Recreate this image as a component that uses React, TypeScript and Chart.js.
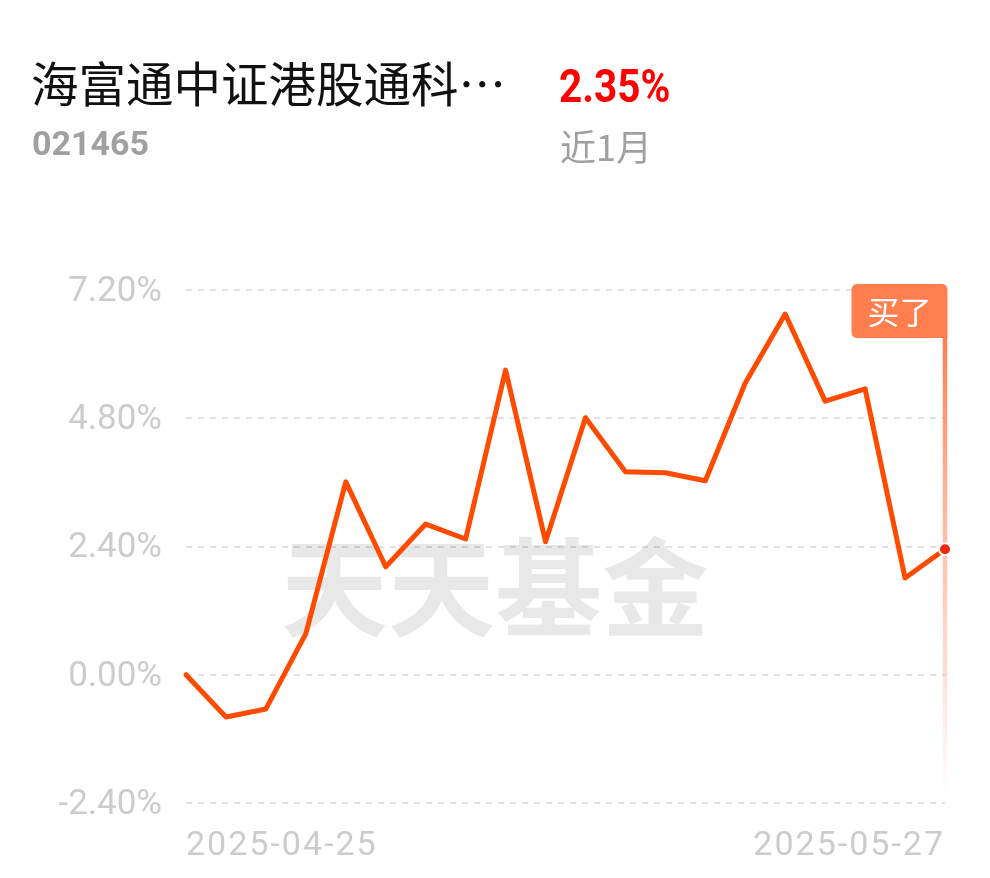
import React, { useEffect, useRef } from "react";
import { Chart, registerables } from "chart.js";

Chart.register(...registerables);

const fundName = "海富通中证港股通科…";
const fundCode = "021465";
const periodReturn = "2.35%";
const periodLabel = "近1月";
const watermarkText = "天天基金";
const buyTagText = "买了";

const dates = [
  "2025-04-25", "2025-04-28", "2025-04-29", "2025-04-30", "2025-05-06",
  "2025-05-07", "2025-05-08", "2025-05-09", "2025-05-12", "2025-05-13",
  "2025-05-14", "2025-05-15", "2025-05-16", "2025-05-19", "2025-05-20",
  "2025-05-21", "2025-05-22", "2025-05-23", "2025-05-26", "2025-05-27",
];

const returns = [
  0.0, -0.79, -0.64, 0.77, 3.61,
  2.02, 2.82, 2.54, 5.70, 2.49,
  4.81, 3.80, 3.78, 3.63, 5.46,
  6.75, 5.12, 5.35, 1.81, 2.35,
];

const yTicks = [-2.4, 0, 2.4, 4.8, 7.2];

const LINE_COLOR = "#FF4B00";
const TAG_COLOR = "#FF7E4F";

const watermarkPlugin = {
  id: "watermarkAndTag",
  beforeDatasetsDraw(chart: any) {
    const { ctx, chartArea } = chart;
    ctx.save();
    // watermark
    ctx.font = "bold 107px 'Noto Sans CJK SC'";
    ctx.fillStyle = "rgba(0,0,0,0.09)";
    ctx.textAlign = "center";
    ctx.textBaseline = "middle";
    ctx.fillText(watermarkText, chartArea.left + 309, chartArea.top + 297);

    // buy marker at last point
    const meta = chart.getDatasetMeta(0);
    const last = meta.data[meta.data.length - 1];
    const x = last.x;
    const tagW = 96;
    const tagH = 54;
    const tagTop = chartArea.top - 6;
    const tagBottom = tagTop + tagH;
    const lineBottom = chartArea.bottom - 8;
    const grad = ctx.createLinearGradient(0, tagBottom, 0, lineBottom);
    grad.addColorStop(0, "rgba(255,126,79,1)");
    grad.addColorStop(0.45, "rgba(255,150,115,0.6)");
    grad.addColorStop(1, "rgba(255,150,115,0)");
    ctx.strokeStyle = grad;
    ctx.lineWidth = 4.5;
    ctx.beginPath();
    ctx.moveTo(x, tagBottom);
    ctx.lineTo(x, lineBottom);
    ctx.stroke();

    const right = x + 2.5;
    const left = right - tagW;
    const r = 6;
    ctx.fillStyle = TAG_COLOR;
    ctx.beginPath();
    ctx.moveTo(left + r, tagTop);
    ctx.lineTo(right - r, tagTop);
    ctx.quadraticCurveTo(right, tagTop, right, tagTop + r);
    ctx.lineTo(right, tagBottom);
    ctx.lineTo(left + r, tagBottom);
    ctx.quadraticCurveTo(left, tagBottom, left, tagBottom - r);
    ctx.lineTo(left, tagTop + r);
    ctx.quadraticCurveTo(left, tagTop, left + r, tagTop);
    ctx.closePath();
    ctx.fill();

    ctx.fillStyle = "#ffffff";
    ctx.font = "32px 'Noto Sans CJK SC'";
    ctx.textAlign = "center";
    ctx.textBaseline = "middle";
    ctx.fillText(buyTagText, (left + right) / 2, tagTop + tagH / 2 + 1);
    ctx.restore();
  },
  afterDatasetsDraw(chart: any) {
    (chart.ctx as any).letterSpacing = "2px";
  },
  afterDraw(chart: any) {
    (chart.ctx as any).letterSpacing = "0px";
  },
};

export default function App() {
  const canvasRef = useRef<HTMLCanvasElement | null>(null);

  useEffect(() => {
    const canvas = canvasRef.current;
    if (!canvas) return;
    const chart = new Chart(canvas, {
      type: "line",
      data: {
        labels: dates,
        datasets: [
          {
            data: returns,
            borderColor: LINE_COLOR,
            borderWidth: 5,
            borderJoinStyle: "round",
            borderCapStyle: "round",
            tension: 0,
            fill: false,
            clip: false as any,
            pointRadius: returns.map((_, i) => (i === returns.length - 1 ? 6 : 0)),
            pointHoverRadius: 0,
            pointBackgroundColor: "#EE2A12",
            pointBorderColor: "#ffffff",
            pointBorderWidth: 2,
          },
        ],
      },
      options: {
        animation: false,
        responsive: false,
        devicePixelRatio: 1,
        events: [],
        layout: { padding: { top: 290, right: 45, left: 0, bottom: 0 } },
        plugins: {
          legend: { display: false },
          tooltip: { enabled: false },
          title: { display: false },
        },
        scales: {
          x: {
            type: "category",
            offset: false,
            grid: { display: false, drawTicks: false },
            border: { display: false },
            afterFit: (scale: any) => {
              scale.height = 75;
            },
            ticks: {
              z: 1,
              autoSkip: false,
              maxRotation: 0,
              minRotation: 0,
              align: "inner",
              padding: 23,
              color: "#cccccc",
              font: { family: "Roboto", size: 34 },
              callback: (_v: any, i: number) =>
                i === 0 || i === dates.length - 1 ? dates[i] : "",
            },
          },
          y: {
            min: -2.4,
            max: 7.2,
            afterBuildTicks: (scale: any) => {
              scale.ticks = yTicks.map((v) => ({ value: v }));
            },
            afterFit: (scale: any) => {
              scale.width = 186;
            },
            grid: {
              color: "#e3e3e3",
              lineWidth: 2,
              drawTicks: false,
            },
            border: { display: false, dash: [6, 6] },
            ticks: {
              padding: 24,
              labelOffset: 2,
              color: "#cccccc",
              font: { family: "Roboto", size: 35 },
              callback: (v: any) => Number(v).toFixed(2) + "%",
            },
          },
        },
      },
      plugins: [watermarkPlugin],
    } as any);
    return () => chart.destroy();
  }, []);

  const base: React.CSSProperties = {
    position: "absolute",
    whiteSpace: "nowrap",
    lineHeight: 1,
    margin: 0,
  };

  return (
    <div
      style={{
        position: "absolute",
        left: 0,
        top: 0,
        width: 990,
        height: 878,
        background: "#ffffff",
        overflow: "hidden",
      }}
    >
      <canvas
        ref={canvasRef}
        width={990}
        height={878}
        style={{ position: "absolute", left: 0, top: 0, width: 990, height: 878 }}
      />
      <div
        style={{
          ...base,
          left: 31,
          top: 58,
          fontSize: 47.5,
          fontFamily: "'Noto Sans CJK SC'",
          color: "#111111",
        }}
      >
        {fundName}
      </div>
      <div
        style={{
          ...base,
          left: 32,
          top: 126,
          fontSize: 34,
          fontWeight: 700,
          fontFamily: "Roboto",
          color: "#a0a0a0",
        }}
      >
        {fundCode}
      </div>
      <div
        style={{
          ...base,
          left: 559,
          top: 63,
          fontSize: 46,
          fontWeight: 700,
          fontFamily: "Roboto",
          color: "#ff0000",
          transform: "scaleX(0.88)",
          transformOrigin: "left top",
        }}
      >
        {periodReturn}
      </div>
      <div
        style={{
          ...base,
          left: 560,
          top: 127,
          fontSize: 36,
          fontFamily: "'Noto Sans CJK SC'",
          color: "#a0a0a0",
        }}
      >
        {periodLabel}
      </div>
    </div>
  );
}
